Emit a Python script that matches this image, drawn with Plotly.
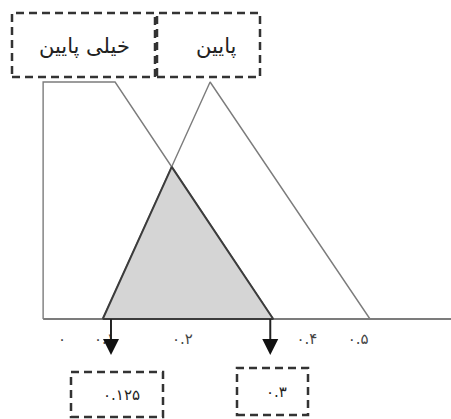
import plotly.graph_objects as go

# membership functions (x in axis units, y = membership degree)
very_low_x = [-0.032, -0.032, 0.090, 0.358]
very_low_y = [0, 1, 1, 0]
low_x = [0.069, 0.251, 0.522]
low_y = [0, 1, 0]
overlap_x = [0.069, 0.186, 0.358]
overlap_y = [0, 0.642, 0]

tick_pos = [0.0, 0.072, 0.204, 0.415, 0.502]
tick_text = ["۰", "۰.۱", "۰.۲", "۰.۴", "۰.۵"]

arrow_x = [0.083, 0.353]
arrow_labels = ["۰.۱۲۵", "۰.۳"]
set_labels = ["خیلی پایین", "پایین"]

W, H = 451, 419
x_range = [-62 / 590, (W - 62) / 590]
y_range = [-100 / 237, 319 / 237]

fig = go.Figure()

fig.add_trace(go.Scatter(x=[very_low_x[0], x_range[1]], y=[0, 0], mode="lines",
                         line=dict(color="#7c7c7c", width=1.8)))
fig.add_trace(go.Scatter(x=very_low_x, y=very_low_y, mode="lines",
                         line=dict(color="#7c7c7c", width=1.4)))
fig.add_trace(go.Scatter(x=low_x, y=low_y, mode="lines",
                         line=dict(color="#7c7c7c", width=1.4)))
fig.add_trace(go.Scatter(x=overlap_x + [overlap_x[0]], y=overlap_y + [overlap_y[0]],
                         mode="lines", fill="toself", fillcolor="#d5d5d5",
                         line=dict(color="#3c3c3c", width=2)))

# tick labels
fig.add_trace(go.Scatter(x=tick_pos, y=[-0.089] * len(tick_pos), mode="text",
                         text=tick_text,
                         textfont=dict(family="DejaVu Sans", size=15, color="#444")))

# arrows
tip_y = -0.152
for ax in arrow_x:
    fig.add_trace(go.Scatter(x=[ax, ax], y=[0, tip_y + 0.03], mode="lines",
                             line=dict(color="#222", width=2)))
fig.add_trace(go.Scatter(x=arrow_x, y=[tip_y] * len(arrow_x), mode="markers",
                         marker=dict(symbol="arrow-down", size=16, color="#111",
                                     line=dict(width=0))))


def px(x):
    return x / W


def py(y):
    return 1 - y / H


boxes = [(12, 155, 13, 77), (157, 260, 13, 77), (71, 163, 372, 417), (237, 308, 368, 415)]
for x0, x1, y0, y1 in boxes:
    fig.add_shape(type="rect", xref="paper", yref="paper",
                  x0=px(x0), x1=px(x1), y0=py(y1), y1=py(y0),
                  line=dict(color="#333", width=2.5, dash="8px,5px"))

label_pos = [(84, 46, set_labels[0], 21), (216, 46, set_labels[1], 21),
             (121, 395, arrow_labels[0], 15), (276, 392, arrow_labels[1], 15)]
for x, y, t, s in label_pos:
    fig.add_annotation(x=px(x), y=py(y), xref="paper", yref="paper", text=t,
                       showarrow=False, xanchor="center", yanchor="middle",
                       font=dict(family="DejaVu Sans", size=s, color="#222"))

fig.update_layout(width=W, height=H, margin=dict(l=0, r=0, t=0, b=0),
                  showlegend=False, plot_bgcolor="white", paper_bgcolor="white",
                  xaxis=dict(visible=False, range=x_range, fixedrange=True),
                  yaxis=dict(visible=False, range=y_range, fixedrange=True))

fig.write_html("out.html", config={"displayModeBar": False},
               post_script="document.body.style.margin = '0';")
